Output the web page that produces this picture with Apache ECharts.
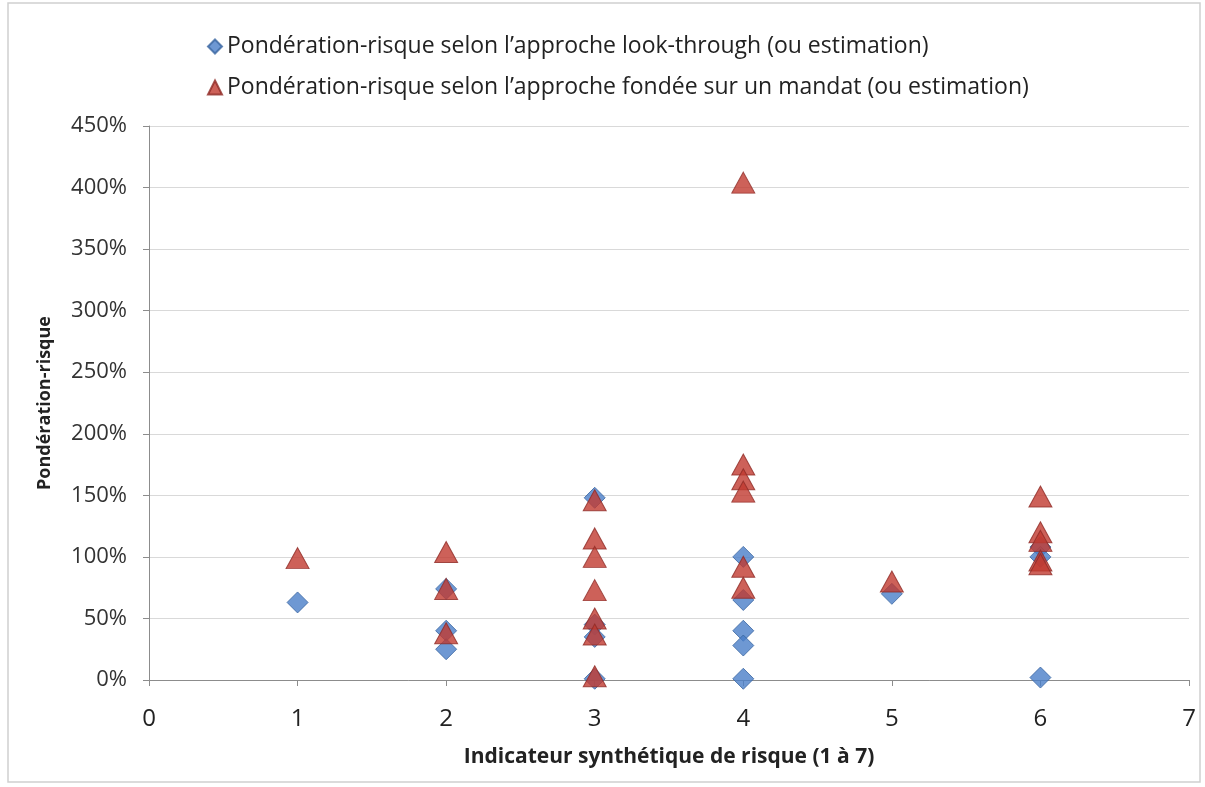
<!DOCTYPE html>
<html><head><meta charset="utf-8">
<script src="https://cdn.jsdelivr.net/npm/echarts@6/dist/echarts.min.js"></script>
<style>html,body{margin:0;padding:0;background:#fff}#c{width:1205px;height:787px}</style>
</head><body><div id="c"></div>
<script>
var seriesNames = ["Pondération-risque selon l\u2019approche look-through (ou estimation)",
                   "Pondération-risque selon l\u2019approche fondée sur un mandat (ou estimation)"];
var xTicks = [0,1,2,3,4,5,6,7];
var yTicks = [0,50,100,150,200,250,300,350,400,450];
// look-through (diamonds): [indicator, weight %]
var lookThrough = [
  [1,63],
  [2,74],[2,40],[2,25],
  [3,148],[3,45],[3,35],[3,1],
  [4,100],[4,65],[4,40],[4,28],[4,1],
  [5,70],
  [6,108],[6,100],[6,2]
];
// mandate (triangles)
var mandate = [
  [1,99],
  [2,104],[2,74],[2,38],
  [3,146],[3,115],[3,100],[3,73],[3,50],[3,37],[3,3],
  [4,404],[4,175],[4,163],[4,153],[4,92],[4,75],
  [5,80],
  [6,149],[6,120],[6,113],[6,97],[6,94]
];
var font = "'Open Sans',sans-serif";
var chart = echarts.init(document.getElementById('c'));
chart.setOption({
  animation:false,
  backgroundColor:'#fff',
  graphic:[{type:'rect',shape:{x:8,y:3,width:1192,height:779},style:{fill:'none',stroke:'#d0d0d0',lineWidth:1.5}}],
  legend:{
    orient:'vertical', left:202, top:30, itemGap:18, itemWidth:14, itemHeight:14,
    textStyle:{fontFamily:font,fontSize:23,color:'#222'},
    data:[{name:seriesNames[0],icon:'diamond'},{name:seriesNames[1],icon:'triangle'}]
  },
  grid:{left:149,right:16,top:126,bottom:107,containLabel:false},
  xAxis:{
    type:'value', min:0, max:7, interval:1,
    name:'Indicateur synthétique de risque (1 à 7)', nameLocation:'middle', nameGap:67,
    nameTextStyle:{fontFamily:font,fontSize:21,fontWeight:'bold',color:'#222'},
    axisLine:{show:true,onZero:false,lineStyle:{color:'#8c8c8c'}},
    axisTick:{show:true,inside:false,length:6,lineStyle:{color:'#8c8c8c'}},
    axisLabel:{fontFamily:font,fontSize:24,color:'#222',margin:27,formatter:function(v){return xTicks.indexOf(v)>=0?String(v):'';}},
    splitLine:{show:false}
  },
  yAxis:{
    type:'value', min:0, max:450, interval:50,
    name:'Pondération-risque', nameLocation:'middle', nameGap:95, nameRotate:90,
    nameTextStyle:{fontFamily:font,fontSize:18,fontWeight:'bold',color:'#222'},
    axisLine:{show:true,lineStyle:{color:'#8c8c8c'}},
    axisTick:{show:true,length:6,lineStyle:{color:'#8c8c8c'}},
    axisLabel:{fontFamily:font,fontSize:22,color:'#333',margin:22,formatter:function(v){return yTicks.indexOf(v)>=0?v+'%':'';}},
    splitLine:{show:true,lineStyle:{color:'#d9d9d9',width:1}}
  },
  series:[
    {name:seriesNames[0],type:'scatter',symbol:'diamond',symbolSize:[21,21],data:lookThrough,
     itemStyle:{color:'#4a7ec8',borderColor:'#3a65a0',borderWidth:1},z:2},
    {name:seriesNames[1],type:'scatter',symbol:'triangle',symbolSize:[23,21],data:mandate,
     itemStyle:{color:'#c0392f',borderColor:'#8f2a26',borderWidth:1},z:3}
  ]
});
</script></body></html>
